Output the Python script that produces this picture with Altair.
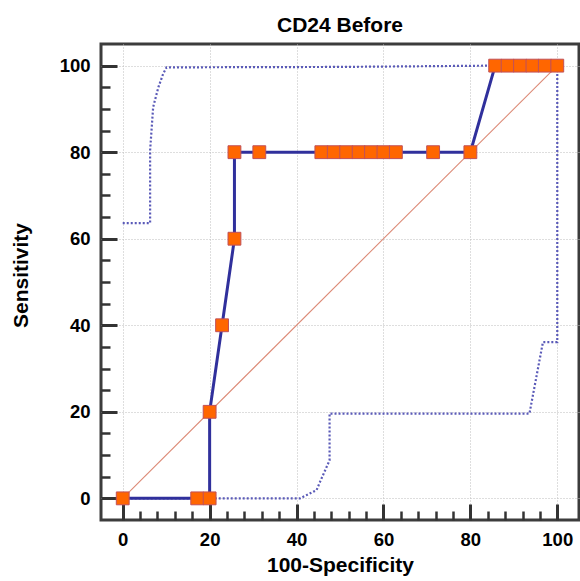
import altair as alt
import pandas as pd

# ROC curve points (100-Specificity, Sensitivity)
fpr = [0, 17.14, 20.0, 20.0, 22.86, 25.71, 25.71, 31.43, 45.71, 48.57, 51.43, 54.29,
       57.14, 60.0, 62.86, 71.43, 80.0, 85.71, 88.57, 91.43, 94.29, 97.14, 100.0]
tpr = [0, 0, 0, 20, 40, 60, 80, 80, 80, 80, 80, 80,
       80, 80, 80, 80, 80, 100, 100, 100, 100, 100, 100]

# Confidence bounds (dotted)
upper_x = [0, 6.3, 6.3, 7.0, 8.2, 9.3, 10.1, 50, 85, 100]
upper_y = [63.6, 63.6, 80.4, 90.4, 95.0, 98.1, 99.6, 99.7, 100, 100]
lower_x = [0, 40.8, 44.6, 45.4, 47.6, 47.6, 93.6, 96.7, 100, 100]
lower_y = [0, 0, 1.9, 3.8, 8.8, 19.6, 19.6, 36.1, 36.1, 100]

# Reference diagonal
diag_x = [0, 100]
diag_y = [0, 100]

# Axis values
grid_values = [0, 20, 40, 60, 80, 100]
x_tick_values = list(range(0, 101, 4))
y_tick_values = list(range(0, 101, 5))

W, H = 478, 476
FONT = "Liberation Sans"

roc = pd.DataFrame({"x": fpr, "y": tpr, "i": range(len(fpr))})
up = pd.DataFrame({"x": upper_x, "y": upper_y, "i": range(len(upper_x))})
lo = pd.DataFrame({"x": lower_x, "y": lower_y, "i": range(len(lower_x))})
dg = pd.DataFrame({"x": diag_x, "y": diag_y, "i": range(len(diag_x))})

xs = alt.Scale(domain=[-5, 105], nice=False, zero=False)
ys = alt.Scale(domain=[-5, 105], nice=False, zero=False)

major_test = "datum.value % 20 === 0"

label_x_axis = alt.Axis(
    orient="bottom", values=grid_values, ticks=False, domain=False,
    grid=True, gridColor="#bdbdbd", gridDash=[1, 2], gridWidth=1,
    labelFont=FONT, labelFontSize=18.5, labelFontWeight="bold", labelColor="black",
    labelPadding=10, labelFlush=False,
    title="100-Specificity", titleFont=FONT, titleFontSize=21, titleFontWeight="bold",
    titleColor="black", titlePadding=6,
)
label_y_axis = alt.Axis(
    orient="left", values=grid_values, ticks=False, domain=False,
    grid=True, gridColor="#bdbdbd", gridDash=[1, 2], gridWidth=1,
    labelFont=FONT, labelFontSize=18.5, labelFontWeight="bold", labelColor="black",
    labelPadding=11, labelFlush=False,
    title="Sensitivity", titleFont=FONT, titleFontSize=21, titleFontWeight="bold",
    titleColor="black", titlePadding=28, titleY=231,
)
tick_x_axis = alt.Axis(
    orient="top", offset=-H, values=x_tick_values, labels=False, domain=False,
    grid=False, title="", tickColor="#333333",
    tickSize={"condition": {"test": major_test, "value": 16}, "value": 9},
    tickWidth={"condition": {"test": major_test, "value": 3}, "value": 2.5},
)
tick_y_axis = alt.Axis(
    orient="right", offset=-W, values=y_tick_values, labels=False, domain=False,
    grid=False, title="", tickColor="#333333",
    tickSize={"condition": {"test": major_test, "value": 16}, "value": 9},
    tickWidth={"condition": {"test": major_test, "value": 3}, "value": 2.5},
)

diag_layer = alt.Chart(dg).mark_line(color="#dc8a76", strokeWidth=1.1).encode(
    x=alt.X("x:Q", scale=xs, axis=tick_x_axis),
    y=alt.Y("y:Q", scale=ys, axis=tick_y_axis),
    order="i:O",
)
up_layer = alt.Chart(up).mark_line(color="#5a5ab8", strokeWidth=2.2, strokeDash=[2, 2]).encode(
    x=alt.X("x:Q", scale=xs, axis=None),
    y=alt.Y("y:Q", scale=ys, axis=None),
    order="i:O",
)
lo_layer = alt.Chart(lo).mark_line(color="#5a5ab8", strokeWidth=2.2, strokeDash=[2, 2]).encode(
    x=alt.X("x:Q", scale=xs, axis=None),
    y=alt.Y("y:Q", scale=ys, axis=None),
    order="i:O",
)
roc_line = alt.Chart(roc).mark_line(color="#30309c", strokeWidth=3).encode(
    x=alt.X("x:Q", scale=xs, axis=label_x_axis),
    y=alt.Y("y:Q", scale=ys, axis=label_y_axis),
    order="i:O",
)
roc_pts = alt.Chart(roc).mark_square(
    size=165, fill="#ff6600", stroke="#c0505a", strokeWidth=1, opacity=1
).encode(
    x=alt.X("x:Q", scale=xs, axis=None),
    y=alt.Y("y:Q", scale=ys, axis=None),
)

chart = alt.layer(diag_layer, up_layer, lo_layer, roc_line, roc_pts).resolve_axis(
    x="independent", y="independent"
).properties(
    width=W, height=H,
    background="white",
    autosize=alt.AutoSizeParams(type="none"),
    padding={"left": 101, "top": 44, "right": 1, "bottom": 61},
    title=alt.TitleParams("CD24 Before", font=FONT, fontSize=21, fontWeight="bold",
                          color="black", anchor="middle", offset=8),
).configure_view(
    stroke="#3c3c3c", strokeWidth=3
)

chart.save("out.html", embed_options={"renderer": "svg", "actions": False})
